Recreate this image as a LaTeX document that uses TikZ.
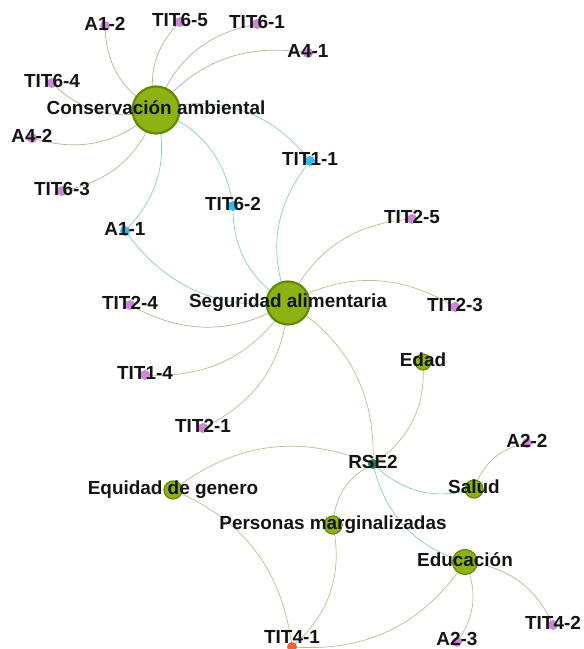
\documentclass[tikz,border=0pt]{standalone}
\usepackage{fontspec}
\setmainfont{Liberation Sans}
\usepackage{tikz}
\usetikzlibrary{arrows,backgrounds}
\definecolor{hubfill}{RGB}{140,178,20}
\definecolor{hubdraw}{RGB}{100,138,0}
\definecolor{pinkdot}{RGB}{204,136,214}
\definecolor{bluedot}{RGB}{52,186,236}
\definecolor{tealdot}{RGB}{44,122,100}
\definecolor{orangedot}{RGB}{232,100,58}
\definecolor{edgegray}{RGB}{180,180,150}
\definecolor{edgeblue}{RGB}{140,200,204}
\definecolor{edgetan}{RGB}{192,186,140}
\begin{document}
\begin{tikzpicture}[line cap=round,line join=round,x=1bp,y=1bp,
  hub/.style={circle,fill=hubfill,draw=hubdraw,line width=2.2bp,inner sep=0pt,minimum size=#1},
  topic/.style={circle,fill=hubfill,draw=hubdraw,line width=1.2bp,inner sep=0pt,minimum size=#1},
  pink/.style={circle,fill=pinkdot,inner sep=0pt,minimum size=10bp},
  blue/.style={circle,fill=bluedot,inner sep=0pt,minimum size=10bp},
  teal/.style={circle,fill=tealdot,inner sep=0pt,minimum size=10bp},
  orange/.style={circle,fill=orangedot,inner sep=0pt,minimum size=10bp},
  edge/.style={line width=0.7bp,draw=#1},
  lbl/.style={font=\fontsize{19}{21}\selectfont\bfseries,text=black!92,inner sep=0pt,text height=13.5bp,text depth=0pt,yshift=2bp}]
\useasboundingbox (0,0) rectangle (584,-649);
\node[hub=47bp] (cons) at (156,-110) {};
\node[hub=43bp] (seg) at (288,-303) {};
\node[pink] (a12) at (105,-26) {};
\node[pink] (tit65) at (180,-22) {};
\node[pink] (tit61) at (257,-24) {};
\node[pink] (a41) at (308,-53) {};
\node[pink] (tit64) at (52,-83) {};
\node[pink] (a42) at (32,-138) {};
\node[pink] (tit63) at (62,-191) {};
\node[blue] (tit11) at (310,-161) {};
\node[blue] (tit62) at (233,-206) {};
\node[blue] (a11) at (125,-231) {};
\node[pink] (tit25) at (412,-219) {};
\node[pink] (tit24) at (130,-305) {};
\node[pink] (tit23) at (455,-307) {};
\node[topic=16bp] (edad) at (423,-362) {};
\node[pink] (tit14) at (145,-375) {};
\node[pink] (tit21) at (203,-428) {};
\node[teal] (rse) at (373,-464) {};
\node[pink] (a22) at (527,-443) {};
\node[topic=18bp] (equi) at (173,-490) {};
\node[topic=18bp] (salud) at (474,-489) {};
\node[topic=18bp] (pers) at (333,-525) {};
\node[topic=25bp] (edu) at (465,-562) {};
\node[pink] (tit42) at (553,-625) {};
\node[orange] (tit41) at (292,-647) {};
\node[pink] (a23) at (457,-642) {};
\begin{pgfonlayer}{background}
\draw[edge=edgegray] (cons.center) to[bend left=30] (a12.center);
\draw[edge=edgegray] (cons.center) to[bend left=30] (tit65.center);
\draw[edge=edgegray] (cons.center) to[bend left=30] (tit61.center);
\draw[edge=edgegray] (cons.center) to[bend left=30] (a41.center);
\draw[edge=edgegray] (cons.center) to[bend left=30] (tit64.center);
\draw[edge=edgegray] (cons.center) to[bend left=30] (a42.center);
\draw[edge=edgegray] (cons.center) to[bend left=30] (tit63.center);
\draw[edge=edgeblue] (cons.center) to[bend left=34] (tit11.center);
\draw[edge=edgeblue] (cons.center) to[bend left=30] (tit62.center);
\draw[edge=edgeblue] (cons.center) to[bend left=30] (a11.center);
\draw[edge=edgeblue] (seg.center) to[bend left=30] (a11.center);
\draw[edge=edgeblue] (seg.center) to[bend left=30] (tit62.center);
\draw[edge=edgeblue] (seg.center) to[bend left=30] (tit11.center);
\draw[edge=edgetan] (seg.center) to[bend left=30] (tit25.center);
\draw[edge=edgetan] (seg.center) to[bend left=30] (tit23.center);
\draw[edge=edgegray] (seg.center) to[bend left=30] (tit24.center);
\draw[edge=edgetan] (seg.center) to[bend left=30] (tit14.center);
\draw[edge=edgetan] (seg.center) to[bend left=30] (tit21.center);
\draw[edge=edgetan] (seg.center) to[bend left=30] (rse.center);
\draw[edge=edgetan] (edad.center) to[bend left=30] (rse.center);
\draw[edge=edgetan] (equi.center) to[bend left=30] (rse.center);
\draw[edge=edgeblue] (salud.center) to[bend left=30] (rse.center);
\draw[edge=edgetan] (pers.center) to[bend left=30] (rse.center);
\draw[edge=edgeblue] (edu.center) to[bend left=30] (rse.center);
\draw[edge=edgetan] (salud.center) to[bend left=30] (a22.center);
\draw[edge=edgegray] (edu.center) to[bend left=30] (tit42.center);
\draw[edge=edgetan] (edu.center) to[bend left=30] (a23.center);
\draw[edge=edgetan] (edu.center) to[bend left=30] (tit41.center);
\draw[edge=edgetan] (equi.center) to[bend left=30] (tit41.center);
\draw[edge=edgetan] (pers.center) to[bend left=30] (tit41.center);
\end{pgfonlayer}
\node[lbl] at (cons) {Conservación ambiental};
\node[lbl] at (seg) {Seguridad alimentaria};
\node[lbl] at (a12) {A1-2};
\node[lbl] at (tit65) {TIT6-5};
\node[lbl] at (tit61) {TIT6-1};
\node[lbl] at (a41) {A4-1};
\node[lbl] at (tit64) {TIT6-4};
\node[lbl] at (a42) {A4-2};
\node[lbl] at (tit63) {TIT6-3};
\node[lbl] at (tit11) {TIT1-1};
\node[lbl] at (tit62) {TIT6-2};
\node[lbl] at (a11) {A1-1};
\node[lbl] at (tit25) {TIT2-5};
\node[lbl] at (tit24) {TIT2-4};
\node[lbl] at (tit23) {TIT2-3};
\node[lbl] at (edad) {Edad};
\node[lbl] at (tit14) {TIT1-4};
\node[lbl] at (tit21) {TIT2-1};
\node[lbl] at (rse) {RSE2};
\node[lbl] at (a22) {A2-2};
\node[lbl] at (equi) {Equidad de genero};
\node[lbl] at (salud) {Salud};
\node[lbl] at (pers) {Personas marginalizadas};
\node[lbl] at (edu) {Educación};
\node[lbl] at (tit42) {TIT4-2};
\node[lbl,yshift=8bp] at (tit41) {TIT4-1};
\node[lbl,yshift=1bp] at (a23) {A2-3};
\end{tikzpicture}
\end{document}
